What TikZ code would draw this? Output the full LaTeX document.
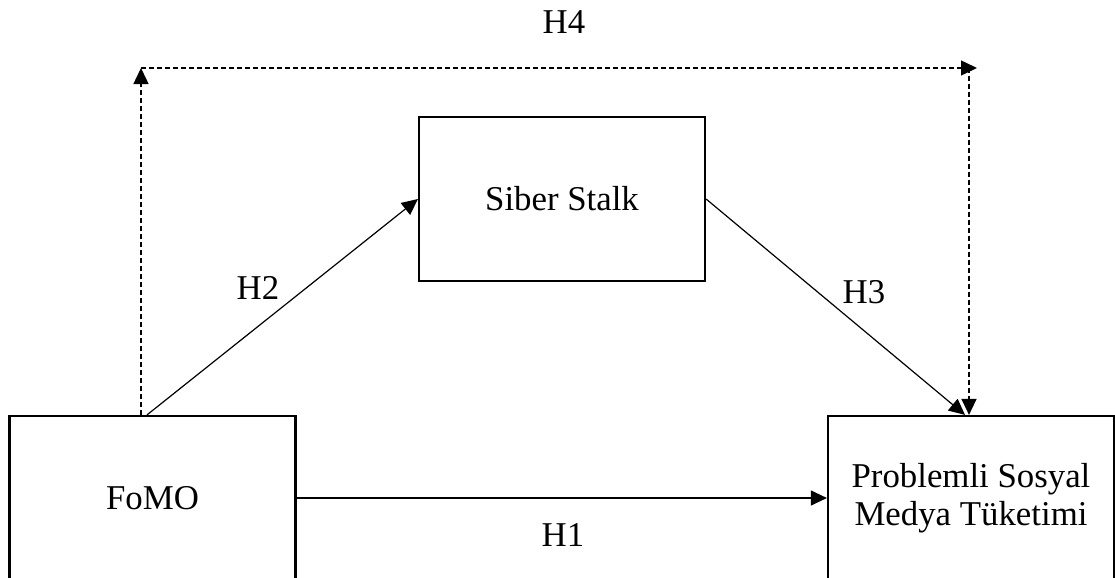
\documentclass[tikz,border=0pt]{standalone}
\usepackage{fontspec}
\setmainfont{Liberation Serif}
\usetikzlibrary{arrows.meta,calc}

\tikzset{
  kutu/.style={draw, line width=1.1pt, minimum width=143pt, minimum height=82pt,
    inner sep=0pt, align=center, font=\fontsize{17.4}{19.2}\selectfont},
  etiket/.style={font=\fontsize{17.4}{19.2}\selectfont},
  ok/.style={-{Triangle[length=8pt,width=7.5pt]}, line width=0.6pt},
  kesik/.style={ok, line width=0.7pt, dash pattern=on 2.5pt off 1.5pt}
}

\begin{document}
\begin{tikzpicture}[x=0.5pt,y=-0.5pt]
\useasboundingbox (0,0) rectangle (1115,578);
% kutular
\node[kutu] (fomo) at (152.5,498) {FoMO};
\node[kutu] (siber) at (562,199) {Siber Stalk};
\node[kutu] (psmt) at (971,498) {Problemli Sosyal\\Medya Tüketimi};
% H4 kesikli yol
\coordinate (solust) at (141,68);
\coordinate (sagust) at (969,68);
\draw[kesik] (solust |- fomo.north) -- (solust);
\draw[kesik] (solust) -- ($(sagust)+(8,0)$);
\draw[kesik] (sagust) -- (sagust |- psmt.north);
% oklar
\draw[ok] ([xshift=-2.75pt]fomo.north) -- (siber.west);
\draw[ok] (siber.east) -- ([xshift=-3pt]psmt.north);
\draw[ok] (fomo.east) -- (psmt.west);
% etiketler
\node[etiket] (h1) at (563,535) {H1};
\node[etiket] (h2) at (258,288) {H2};
\node[etiket] (h3) at (864,292) {H3};
\node[etiket] (h4) at (564,22) {H4};
\end{tikzpicture}
\end{document}
